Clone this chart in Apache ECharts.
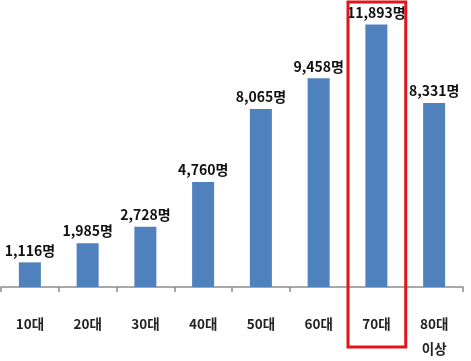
<!DOCTYPE html>
<html><head><meta charset="utf-8">
<script src="https://cdn.jsdelivr.net/npm/echarts@6/dist/echarts.min.js"></script>
<style>html,body{margin:0;padding:0;background:#fff}#c{width:471px;height:361px}</style>
</head><body><div id="c"></div>
<script>
var categories = ['10대','20대','30대','40대','50대','60대','70대','80대\n이상'];
var values = [1116, 1985, 2728, 4760, 8065, 9458, 11893, 8331];
var highlightCategory = '70대';
var chart = echarts.init(document.getElementById('c'));
var font = '"Noto Sans CJK KR", "Noto Sans", sans-serif';
chart.setOption({
  animation: false,
  grid: {left: 1, right: 8, top: 0, bottom: 71},
  xAxis: {
    type: 'category', data: categories,
    axisLine: {lineStyle: {color: '#8c8c8c', width: 1.5}},
    axisTick: {show: true, length: 5, lineStyle: {color: '#8c8c8c', width: 1.5}},
    axisLabel: {margin: 24, fontFamily: font, fontSize: 13.5, fontWeight: 'bold', color: '#222', lineHeight: 25, interval: 0}
  },
  yAxis: {type: 'value', min: 0, max: 13000, show: false, splitLine: {show: false}},
  series: [{
    type: 'bar', data: values, barWidth: 22,
    itemStyle: {color: '#4F81BD'},
    label: {show: true, position: 'top', distance: 5, fontFamily: font, fontSize: 14, fontWeight: 'bold', color: '#111',
      formatter: function(p){ return p.value.toLocaleString('en-US') + '명'; }}
  }]
});
var idx = categories.indexOf(highlightCategory);
var c0 = chart.convertToPixel({xAxisIndex: 0}, idx);
var c1 = chart.convertToPixel({xAxisIndex: 0}, idx + 1);
var half = (c1 - c0) / 2;
chart.setOption({graphic: [{type: 'rect', shape: {x: c0 - half + 0.5, y: 2, width: half * 2, height: 345},
  style: {fill: 'none', stroke: '#e0161b', lineWidth: 3}, z: 100}]});
</script></body></html>
